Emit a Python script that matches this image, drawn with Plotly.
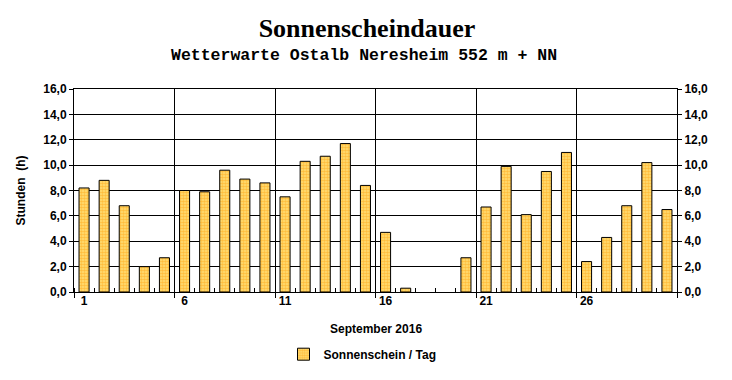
import plotly.graph_objects as go

days = list(range(1, 31))
sunshine = [8.2, 8.8, 6.8, 2.0, 2.7, 8.0, 7.9, 9.6, 8.9, 8.6,
            7.5, 10.3, 10.7, 11.7, 8.4, 4.7, 0.3, 0.0, 0.0, 2.7,
            6.7, 9.9, 6.1, 9.5, 11.0, 2.4, 4.3, 6.8, 10.2, 6.5]
label_days = [1, 6, 11, 16, 21, 26]
grid_pos = [0.5, 5.5, 10.5, 15.5, 20.5, 25.5, 30.5]
y_ticks = [0, 2, 4, 6, 8, 10, 12, 14, 16]

AX_FONT = dict(family="Liberation Sans", size=12, color="black")

fig = go.Figure()
fig.add_trace(go.Bar(
    x=days, y=sunshine, width=0.5, name="<b>Sonnenschein / Tag</b>",
    marker=dict(color="#FFC040",
                line=dict(color="black", width=[1 if v > 0 else 0 for v in sunshine]),
                pattern=dict(shape=".", fgcolor="#FF9900", bgcolor="#FFE07A",
                             size=3, solidity=0.6)),
    hoverinfo="x+y",
))
# invisible helper trace so the secondary axes are rendered
fig.add_trace(go.Scatter(x=days, y=sunshine, xaxis="x2", yaxis="y2",
                         mode="none", showlegend=False, hoverinfo="skip"))

fig.update_layout(
    width=732, height=380,
    margin=dict(l=74, r=55, t=89, b=87),
    paper_bgcolor="white", plot_bgcolor="white",
    separators=",.",
    bargap=0.5,
    title=dict(text="<b>Sonnenscheindauer</b>", x=367 / 732, xanchor="center",
               y=1 - 28 / 380, yanchor="middle",
               font=dict(family="Liberation Serif", size=26, color="black")),
    xaxis=dict(range=[0.5, 30.5], tickmode="array", tickvals=grid_pos,
               showticklabels=False, ticks="outside", ticklen=5, tickcolor="black",
               showgrid=True, gridcolor="black", gridwidth=1,
               showline=True, linecolor="black", linewidth=1, mirror=True,
               zeroline=False,
               minor=dict(ticks="inside", ticklen=4, tick0=0.5, dtick=1,
                          tickcolor="black", showgrid=False)),
    xaxis2=dict(overlaying="x", matches="x", range=[0.5, 30.5], side="bottom",
                tickmode="array", tickvals=label_days,
                ticktext=[f"<b>{d}</b>" for d in label_days],
                ticks="", showgrid=False, showline=False, zeroline=False,
                tickfont=AX_FONT),
    yaxis=dict(range=[0, 16], tickmode="array", tickvals=y_ticks,
               ticktext=[f"<b>{v:.1f}</b>".replace(".", ",") for v in y_ticks],
               ticks="outside", ticklen=4, tickcolor="black",
               showgrid=True, gridcolor="black", gridwidth=1,
               showline=True, linecolor="black", linewidth=1, mirror=True,
               zeroline=False, tickfont=AX_FONT),
    yaxis2=dict(overlaying="y", matches="y", side="right", range=[0, 16],
                tickmode="array", tickvals=y_ticks,
                ticktext=[f"<b>{v:.1f}</b>".replace(".", ",") for v in y_ticks],
                ticks="outside", ticklen=4, tickcolor="black",
                showgrid=False, zeroline=False, showline=False, tickfont=AX_FONT),
    legend=dict(orientation="h", x=0.5 - 13 / 603, xanchor="center", y=-0.30, yanchor="middle",
                font=AX_FONT, bgcolor="rgba(0,0,0,0)"),
    showlegend=True,
    annotations=[
        dict(text="<b>Wetterwarte Ostalb Neresheim 552 m + NN</b>", xref="paper", yref="paper",
             x=(364 - 74) / 603, y=1 + 34 / 204, xanchor="center", yanchor="middle", showarrow=False,
             font=dict(family="Liberation Mono", size=16.5, color="black")),
        dict(text="<b>September 2016</b>", xref="paper", yref="paper",
             x=0.5, y=-37 / 204, xanchor="center", yanchor="middle", showarrow=False,
             font=AX_FONT),
        dict(text="<b>Stunden  (h)</b>", xref="paper", yref="paper",
             x=-54 / 603, y=0.5, xanchor="center", yanchor="middle", showarrow=False,
             textangle=-90, font=AX_FONT),
    ],
)

fig.write_html("out.html")
